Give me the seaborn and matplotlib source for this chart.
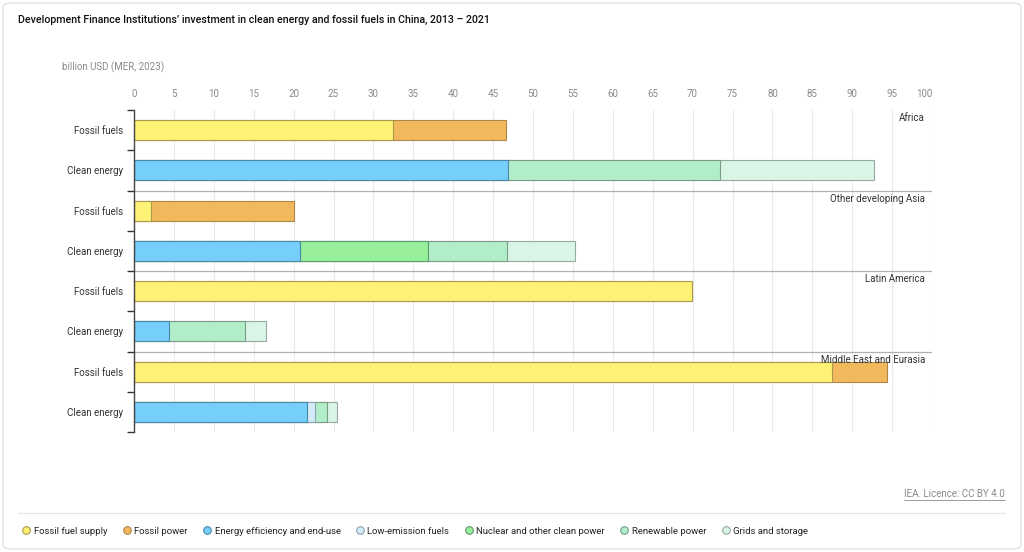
import numpy as np
import pandas as pd
import matplotlib
matplotlib.use("Agg")
import matplotlib.pyplot as plt
import seaborn as sns
from matplotlib.lines import Line2D
from matplotlib.patches import FancyBboxPatch
from matplotlib.ticker import FixedLocator

# ---------------- data ----------------
regions = ["Africa", "Other developing Asia", "Latin America", "Middle East and Eurasia"]
row_types = ["Fossil fuels", "Clean energy"]
x_ticks = [0, 5, 10, 15, 20, 25, 30, 35, 40, 45, 50, 55, 60, 65, 70, 75, 80, 85, 90, 95, 100]

fossil_fuel_supply = [32.4, 2.15, 69.9, 87.5]
fossil_power = [14.2, 17.95, 0.0, 6.9]
energy_efficiency = [46.9, 20.75, 4.4, 21.7]
low_emission_fuels = [0.0, 0.0, 0.0, 1.0]
nuclear_other = [0.0, 16.05, 0.0, 0.0]
renewable_power = [26.5, 9.9, 9.5, 1.5]
grids_storage = [19.3, 8.6, 2.7, 1.3]

series_names = ["Fossil fuel supply", "Fossil power", "Energy efficiency and end-use",
                "Low-emission fuels", "Nuclear and other clean power", "Renewable power",
                "Grids and storage"]
series_values = [fossil_fuel_supply, fossil_power, energy_efficiency, low_emission_fuels,
                 nuclear_other, renewable_power, grids_storage]
series_type = ["Fossil fuels", "Fossil fuels", "Clean energy", "Clean energy",
               "Clean energy", "Clean energy", "Clean energy"]
colors = ["#fdf275", "#f1b95b", "#76cefa", "#d3eaf7", "#97ef9b", "#b2edc9", "#d9f5e5"]
edges = ["#a89a4a", "#b0854a", "#4a88a8", "#8fa3b0", "#5e9a68", "#789c86", "#98aaa0"]

# ---------------- long table ----------------
rows = []
for reg in regions:
    for t in row_types:
        rows.append(f"{reg}|{t}")

recs = []
for ri, reg in enumerate(regions):
    for t in row_types:
        cum = 0.0
        for si, name in enumerate(series_names):
            if series_type[si] != t:
                continue
            v = series_values[si][ri]
            cum += v
            recs.append(dict(row=f"{reg}|{t}", series=name, value=v, cum=cum))
df = pd.DataFrame(recs)

# ---------------- figure ----------------
sns.set_theme(style="white")
plt.rcParams["font.family"] = ["Roboto", "DejaVu Sans"]

fig = plt.figure(figsize=(10.24, 5.52), dpi=100)
fig.patch.set_facecolor("white")
ax = fig.add_axes([134 / 1024, 1 - 432 / 552, (932 - 134) / 1024, (432 - 110) / 552])

for si in range(len(series_names) - 1, -1, -1):
    sub = df[(df["series"] == series_names[si]) & (df["value"] > 0)]
    if sub.empty:
        continue
    sns.barplot(data=sub, x="cum", y="row", order=rows, orient="h", color=colors[si],
                edgecolor=edges[si], linewidth=0.8, width=0.5, errorbar=None,
                saturation=1, ax=ax, zorder=3)

ax.set_xlim(0, 100)
ax.set_ylim(len(rows) - 0.5, -0.5)
ax.set_xlabel("")
ax.set_ylabel("")

# x axis on top
ax.xaxis.set_major_locator(FixedLocator(x_ticks))
ax.xaxis.tick_top()
ax.tick_params(axis="x", which="major", length=0, pad=8, labelsize=7, labelcolor="#8a8a8a")
ax.set_xticklabels([str(v) for v in x_ticks])
lbls = ax.get_xticklabels()
lbls[-1].set_ha("right")
ax.grid(axis="x", color="#e9e9e9", linewidth=0.8, zorder=0)
ax.set_axisbelow(True)

# y axis
ax.set_yticks(range(len(rows)))
ax.set_yticklabels([r.split("|")[1] for r in rows])
ax.tick_params(axis="y", which="major", length=0, pad=8, labelsize=7, labelcolor="#333333")
ax.yaxis.set_minor_locator(FixedLocator(np.arange(-0.5, len(rows), 1.0)))
ax.tick_params(axis="y", which="minor", length=5, width=1.0, color="#333333", left=True)

for s in ["top", "right", "bottom"]:
    ax.spines[s].set_visible(False)
ax.spines["left"].set_color("#444444")
ax.spines["left"].set_linewidth(1.0)
ax.spines["left"].set_zorder(5)

# region separators & labels
for i, reg in enumerate(regions):
    ytop = 2 * i - 0.5
    if i > 0:
        ax.axhline(ytop, color="#b0b0b0", linewidth=0.9, zorder=4)
    ax.annotate(reg, xy=(1.0, ytop), xycoords=("axes fraction", "data"),
                xytext=(-5, -2.5), textcoords="offset points", ha="right", va="top",
                fontsize=7, color="#333333", zorder=6)

# title and unit
fig.text(18 / 1024, 1 - 20 / 552, "Development Finance Institutions\u2019 investment in clean energy and fossil fuels in China, 2013 \u2013 2021",
         fontsize=7.7, fontweight="medium", color="#111111", ha="left", va="center")
fig.text(62 / 1024, 1 - 67 / 552, "billion USD (MER, 2023)", fontsize=7, color="#8a8a8a",
         ha="left", va="center")

# licence
lic = fig.text(1005 / 1024, 1 - 494 / 552, "IEA. Licence: CC BY 4.0", fontsize=7, color="#8a8a8a",
               ha="right", va="center")
fig.canvas.draw()
bb = lic.get_window_extent(fig.canvas.get_renderer()).transformed(fig.transFigure.inverted())
fig.add_artist(Line2D([bb.x0, bb.x1], [bb.y0 - 0.001, bb.y0 - 0.001], color="#8a8a8a",
                      linewidth=0.6, transform=fig.transFigure))

# separator line
fig.add_artist(Line2D([18 / 1024, 1005 / 1024], [1 - 513 / 552, 1 - 513 / 552],
                      color="#e6e6e6", linewidth=0.9, transform=fig.transFigure))

# legend
handles = [Line2D([0], [0], marker="o", linestyle="none", markersize=5.5,
                  markerfacecolor=colors[i], markeredgecolor=edges[i], markeredgewidth=0.8)
           for i in range(len(series_names))]
fig.legend(handles, series_names, loc="center left", bbox_to_anchor=(12 / 1024, 1 - 531 / 552),
           ncol=7, frameon=False, fontsize=6.8, handletextpad=0.2, columnspacing=1.45,
           handlelength=1.2, labelcolor="#222222")

# card border
fig.add_artist(FancyBboxPatch((3 / 1024, 3 / 552), 1 - 6 / 1024, 1 - 6 / 552,
                              boxstyle="round,pad=0,rounding_size=0.008",
                              transform=fig.transFigure, facecolor="none",
                              edgecolor="#e3e3e3", linewidth=1.0))

fig.savefig("out.png", dpi=100, facecolor="white")
